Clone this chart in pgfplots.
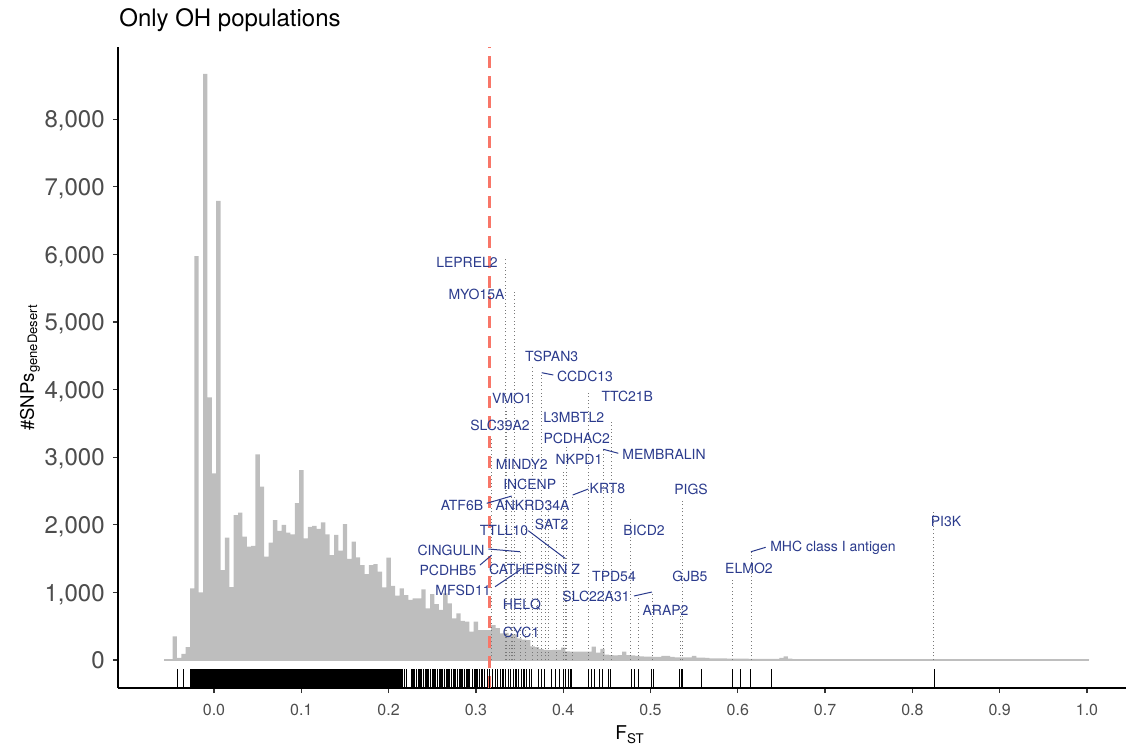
\documentclass[border=0pt]{standalone}
\usepackage{fontspec}
\setmainfont{TeX Gyre Heros}
\usepackage{pgfplots}
\pgfplotsset{compat=1.18}
\definecolor{histgrey}{RGB}{190,190,190}
\definecolor{salmonred}{RGB}{248,118,104}
\definecolor{labblue}{RGB}{42,58,140}
\definecolor{tickgrey}{RGB}{77,77,77}
\definecolor{dotgrey}{RGB}{120,120,120}

\pgfplotstableread{
x y
-0.0575 0
-0.0525 0
-0.0475 350
-0.0425 30
-0.0375 90
-0.0325 190
-0.0275 1060
-0.0225 5976
-0.0175 1000
-0.0125 8669
-0.0075 3886
-0.0025 2761
0.0025 6790
0.0075 1331
0.0125 1810
0.0175 1080
0.0225 2145
0.0275 2180
0.0325 1825
0.0375 1677
0.0425 1690
0.0475 3042
0.0525 2564
0.0575 1530
0.0625 1735
0.0675 2070
0.0725 1910
0.0775 2000
0.0825 1885
0.0875 1860
0.0925 2320
0.0975 2810
0.1025 1800
0.1075 1970
0.1125 1985
0.1175 1940
0.1225 2035
0.1275 1860
0.1325 1550
0.1375 1850
0.1425 1620
0.1475 2010
0.1525 1495
0.1575 1750
0.1625 1520
0.1675 1405
0.1725 1272
0.1775 1405
0.1825 1420
0.1875 1306
0.1925 1075
0.1975 1513
0.2025 1095
0.2075 951
0.2125 1060
0.2175 960
0.2225 888
0.2275 912
0.2325 912
0.2375 1045
0.2425 765
0.2475 976
0.2525 828
0.2575 740
0.2625 987
0.2675 839
0.2725 617
0.2775 690
0.2825 580
0.2875 567
0.2925 420
0.2975 567
0.3025 444
0.3075 444
0.3125 444
0.3175 518
0.3225 470
0.3275 395
0.3325 400
0.3375 370
0.3425 380
0.3475 320
0.3525 300
0.3575 296
0.3625 200
0.3675 190
0.3725 160
0.3775 150
0.3825 145
0.3875 150
0.3925 150
0.3975 182
0.4025 128
0.4075 125
0.4125 123
0.4175 125
0.4225 123
0.4275 125
0.4325 197
0.4375 110
0.4425 163
0.4475 80
0.4525 74
0.4575 70
0.4625 74
0.4675 123
0.4725 74
0.4775 70
0.4825 60
0.4875 55
0.4925 50
0.4975 50
0.5025 45
0.5075 48
0.5125 60
0.5175 60
0.5225 45
0.5275 40
0.5325 40
0.5375 40
0.5425 40
0.5475 60
0.5525 35
0.5575 35
0.5625 30
0.5675 25
0.5725 25
0.5775 25
0.5825 25
0.5875 22
0.5925 22
0.5975 20
0.6025 20
0.6075 20
0.6125 18
0.6175 18
0.6225 18
0.6275 18
0.6325 16
0.6375 16
0.6425 16
0.6475 30
0.6525 55
0.6575 20
0.6625 15
0.8025 10
1.0025 0
}\histdata

\pgfplotstableread{
x y v
0.3333 0 5947
0.3436 0 5473
0.3643 0 4334
0.3754 0 4250
0.3345 0 3698
0.4288 0 3969
0.3181 0 3299
0.4556 0 3525
0.4032 0 3180
0.4459 0 3117
0.4001 0 2811
0.3562 0 2692
0.3826 0 2396
0.4109 0 2441
0.3410 0 2426
0.3792 0 2145
0.3918 0 1805
0.4773 0 2096
0.4021 0 1504
0.3505 0 1602
0.3181 0 1553
0.3700 0 1154
0.4860 0 917
0.3505 0 1331
0.5017 0 1006
0.3414 0 621
0.5338 0 784
0.3379 0 222
0.5361 0 1065
0.5369 0 2367
0.5942 0 1183
0.6151 0 1602
0.8239 0 2194
}\genelines

\pgfplotstableread{
x y u v
0.3754 4250 0.0133 -34
0.4459 3117 0.0172 -59
0.4109 2441 0.0179 89
0.3124 2318 0.0286 108
0.3600 1913 0.0421 -409
0.3142 1642 0.0363 -40
0.3047 1405 0.0134 148
0.3219 1084 0.0286 247
0.4811 947 0.0206 59
0.6151 1602 0.0168 65
}\connectors

\pgfplotstableread{
x y
-0.042 -414
-0.035 -414
0.216 -414
0.218 -414
0.2205 -414
0.226 -414
0.228 -414
0.230 -414
0.232 -414
0.234 -414
0.236 -414
0.238 -414
0.240 -414
0.242 -414
0.244 -414
0.246 -414
0.248 -414
0.250 -414
0.252 -414
0.254 -414
0.256 -414
0.258 -414
0.260 -414
0.262 -414
0.264 -414
0.266 -414
0.268 -414
0.270 -414
0.272 -414
0.274 -414
0.276 -414
0.279 -414
0.281 -414
0.283 -414
0.285 -414
0.287 -414
0.289 -414
0.291 -414
0.293 -414
0.296 -414
0.298 -414
0.300 -414
0.302 -414
0.304 -414
0.306 -414
0.308 -414
0.310 -414
0.313 -414
0.316 -414
0.319 -414
0.322 -414
0.325 -414
0.328 -414
0.331 -414
0.334 -414
0.337 -414
0.340 -414
0.343 -414
0.346 -414
0.349 -414
0.352 -414
0.355 -414
0.358 -414
0.361 -414
0.364 -414
0.3715 -414
0.375 -414
0.379 -414
0.387 -414
0.391 -414
0.396 -414
0.400 -414
0.403 -414
0.406 -414
0.409 -414
0.429 -414
0.432 -414
0.436 -414
0.442 -414
0.445 -414
0.452 -414
0.454 -414
0.478 -414
0.482 -414
0.486 -414
0.501 -414
0.503 -414
0.533 -414
0.536 -414
0.558 -414
0.594 -414
0.603 -414
0.615 -414
0.639 -414
0.825 -414
}\rugdata

\begin{document}
\begin{tikzpicture}[labtext/.style={font=\fontsize{7}{8}\selectfont, text=labblue, inner sep=0pt, anchor=center}]
\useasboundingbox (-59pt,-29pt) rectangle (504pt,344pt);
\begin{axis}[
  at={(0,0)}, anchor=south west,
  scale only axis, width=504pt, height=320.5pt,
  xmin=-0.11, xmax=1.0447, ymin=-414, ymax=9068,
  axis lines=left,
  axis line style={-, line width=1pt, black},
  tick align=outside,
  major tick length=2.5pt,
  tick style={line width=0.6pt, color=black!80},
  xtick={0,0.1,0.2,0.3,0.4,0.5,0.6,0.7,0.8,0.9,1.0},
  ytick={0,1000,2000,3000,4000,5000,6000,7000,8000},
  scaled y ticks=false, scaled x ticks=false,
  /pgf/number format/assume math mode=true,
  tick label style={inner sep=0pt, color=tickgrey},
  xticklabel style={font=\fontsize{8}{9}\selectfont, anchor=base, yshift=-11pt,
     /pgf/number format/.cd, fixed, fixed zerofill, precision=1},
  yticklabel style={font=\fontsize{12}{14}\selectfont, anchor=base east, xshift=-4pt, yshift=-4.3pt,
     /pgf/number format/.cd, fixed, 1000 sep={,}},
  xlabel={F\textsubscript{ST}},
  xlabel style={font=\fontsize{9.5}{11}\selectfont, at={(rel axis cs:0.508,-0.0811)}, anchor=base},
  ylabel={\#SNPs\textsubscript{geneDesert}},
  ylabel style={font=\fontsize{9.3}{11}\selectfont, at={(rel axis cs:-0.0835,0.5)}, anchor=base},
]
% histogram
\addplot[ybar interval, fill=histgrey, draw=none] table[x=x, y=y] {\histdata};
\addplot[histgrey, line width=0.6pt] coordinates {(-0.0575,0) (1.0025,0)};
% gene dotted lines
\addplot[dotgrey, line width=0.4pt, dash pattern=on 0.5pt off 1.3pt, -,
  quiver={u=0, v=\thisrow{v}}] table[x=x, y=y] {\genelines};
% threshold
\addplot[salmonred, line width=1.5pt, dash pattern=on 6pt off 4pt] coordinates {(0.315,-414) (0.315,9068)};
% rug
\addplot[fill=black, draw=none] coordinates {(-0.028,-414) (0.215,-414) (0.215,-138) (-0.028,-138)};
\addplot[black, line width=0.6pt, -, quiver={u=0, v=276}] table[x=x, y=y] {\rugdata};
% connectors
\addplot[labblue, line width=0.5pt, -, quiver={u=\thisrow{u}, v=\thisrow{v}}] table[x=x, y=y] {\connectors};
% labels
\node[labtext] at (axis cs:0.2898,5888) {LEPREL2};
\node[labtext] at (axis cs:0.3007,5414) {MYO15A};
\node[labtext] at (axis cs:0.3868,4497) {TSPAN3};
\node[labtext] at (axis cs:0.4250,4201) {CCDC13};
\node[labtext] at (axis cs:0.3414,3876) {VMO1};
\node[labtext] at (axis cs:0.4734,3905) {TTC21B};
\node[labtext] at (axis cs:0.3276,3476) {SLC39A2};
\node[labtext] at (axis cs:0.4121,3580) {L3MBTL2};
\node[labtext] at (axis cs:0.4155,3284) {PCDHAC2};
\node[labtext] at (axis cs:0.5155,3047) {MEMBRALIN};
\node[labtext] at (axis cs:0.4181,2973) {NKPD1};
\node[labtext] at (axis cs:0.3525,2899) {MINDY2};
\node[labtext] at (axis cs:0.3616,2604) {INCENP};
\node[labtext] at (axis cs:0.4507,2544) {KRT8};
\node[labtext] at (axis cs:0.2841,2293) {ATF6B};
\node[labtext] at (axis cs:0.3648,2293) {ANKRD34A};
\node[labtext] at (axis cs:0.3868,2007) {SAT2};
\node[labtext] at (axis cs:0.4926,1923) {BICD2};
\node[labtext] at (axis cs:0.3322,1923) {TTLL10};
\node[labtext] at (axis cs:0.2715,1627) {CINGULIN};
\node[labtext] at (axis cs:0.2680,1331) {PCDHB5};
\node[labtext] at (axis cs:0.3671,1342) {CATHEPSIN Z};
\node[labtext] at (axis cs:0.4582,1232) {TPD54};
\node[labtext] at (axis cs:0.2852,1036) {MFSD11};
\node[labtext] at (axis cs:0.4376,936) {SLC22A31};
\node[labtext] at (axis cs:0.3528,814) {HELQ};
\node[labtext] at (axis cs:0.5172,729) {ARAP2};
\node[labtext] at (axis cs:0.3517,414) {CYC1};
\node[labtext] at (axis cs:0.5452,1232) {GJB5};
\node[labtext] at (axis cs:0.5464,2530) {PIGS};
\node[labtext] at (axis cs:0.6128,1361) {ELMO2};
\node[labtext] at (axis cs:0.7090,1657) {MHC class I antigen};
\node[labtext] at (axis cs:0.8385,2056) {PI3K};
\end{axis}
\node[anchor=base west, inner sep=0pt, font=\fontsize{12}{14}\selectfont] at (0.5pt,330.7pt) {Only OH populations};
\end{tikzpicture}
\end{document}
